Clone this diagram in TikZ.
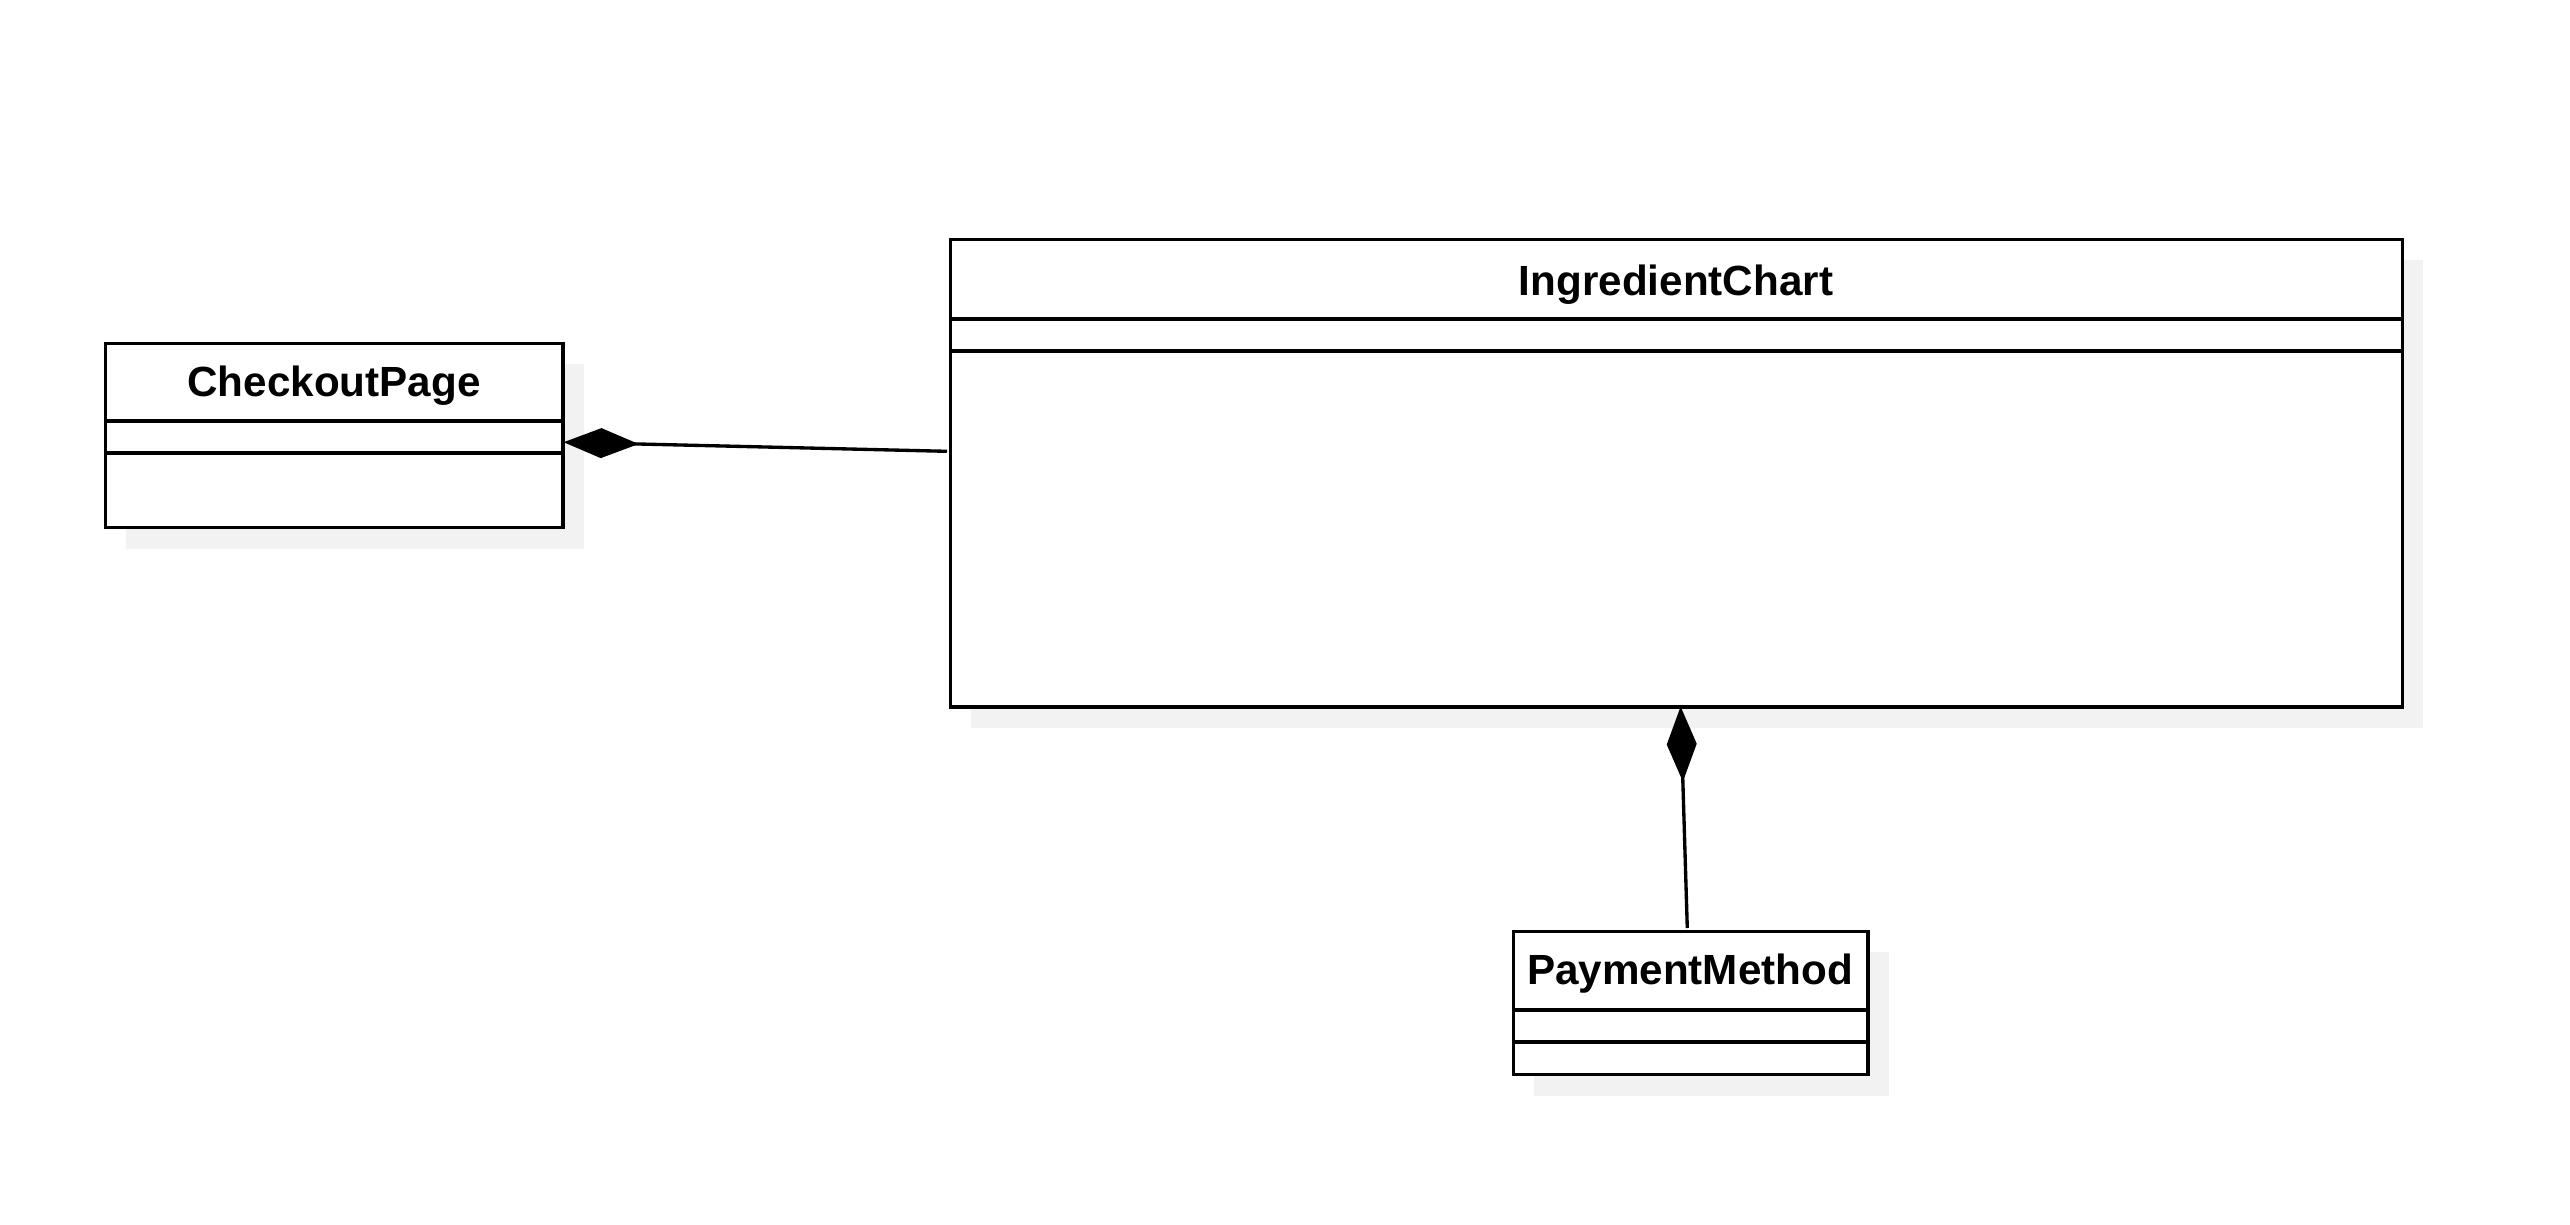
\documentclass[tikz,border=0pt]{standalone}
\usepackage{fontspec}
\setmainfont{Liberation Sans}
\usetikzlibrary{arrows.meta,calc}

\begin{document}
\begin{tikzpicture}[x=0.01cm,y=-0.01cm,
    classbox/.style={draw=black,line width=0.95pt,fill=white,inner sep=0pt,anchor=north west},
    classname/.style={font=\bfseries\fontsize{12}{14}\selectfont,anchor=base},
    shade/.style={fill=gray!10,draw=none},
    divider/.style={line width=0.95pt},
    compose/.style={line width=0.95pt,-{Diamond[length=7.5mm,width=3mm]}}]
    \useasboundingbox (0,0) rectangle (2570,1224);
    % shadows
    \fill[shade] (126,364) rectangle (584,549);
    \fill[shade] (971,260) rectangle (2423,728);
    \fill[shade] (1534,952) rectangle (1889,1096);
    % classes
    \node[classbox,minimum width=4.57cm,minimum height=1.84cm] (checkout) at (104,342) {};
    \node[classname] (checkoutname) at (334,396) {CheckoutPage};
    \draw[divider] (104,421) -- (565,421);
    \draw[divider] (104,453) -- (565,453);
    \node[classbox,minimum width=14.51cm,minimum height=4.67cm] (chart) at (949,238) {};
    \node[classname] (chartname) at (1676,295) {IngredientChart};
    \draw[divider] (949,319) -- (2404,319);
    \draw[divider] (949,351) -- (2404,351);
    \node[classbox,minimum width=3.54cm,minimum height=1.43cm] (pay) at (1512,930) {};
    \node[classname] (payname) at (1690,984) {PaymentMethod};
    \draw[divider] (1512,1010) -- (1870,1010);
    \draw[divider] (1512,1042) -- (1870,1042);
    % compositions
    \draw[compose] ($(chart.west)+(-2,-22)$) -- ($(checkout.east)+(-1,6.5)$);
    \draw[compose] ($(pay.north)+(-3.5,-2)$) -- ($(chart.south)+(4,-2)$);
\end{tikzpicture}
\end{document}
